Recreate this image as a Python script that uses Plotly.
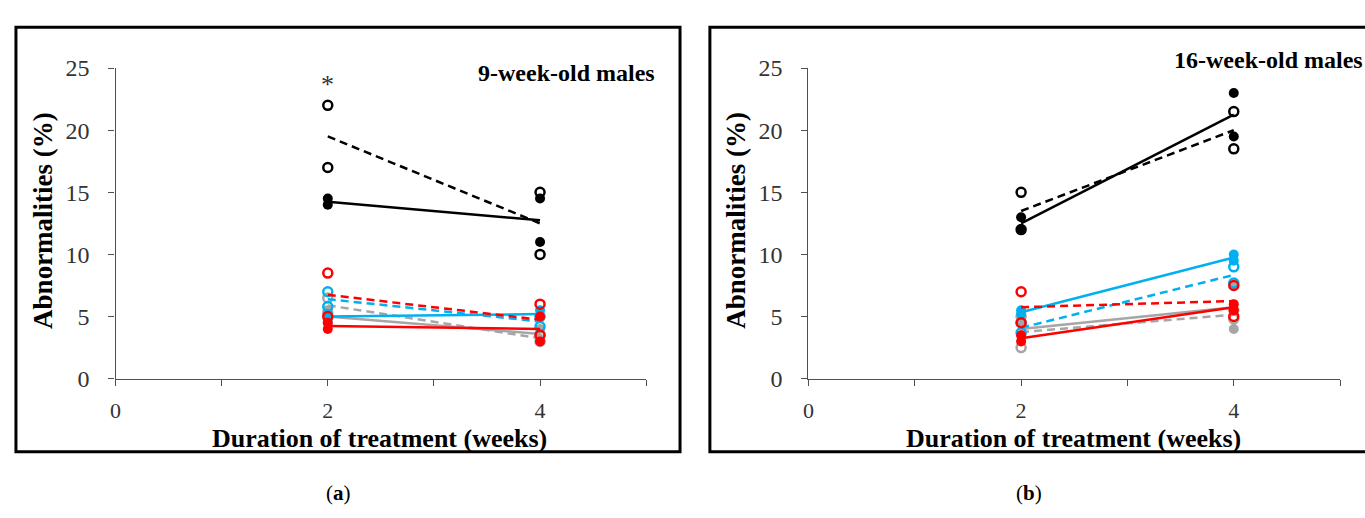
import numpy as np
import plotly.graph_objects as go

W, H = 1365, 518

weeks = [2, 4]

# Panel (a): 9-week-old males  -> values per week [[week2 values], [week4 values]]
a_black_open = [[22.0, 17.0], [15.0, 10.0]]
a_black_filled = [[14.5, 14.0], [14.5, 11.0]]
a_gray_open = [[6.5, 5.3], [3.5, 3.0]]
a_gray_filled = [[5.5, 4.5], [4.0, 3.2]]
a_blue_open = [[7.0, 5.8], [5.0, 4.2]]
a_blue_filled = [[5.2, 4.8], [5.5, 4.9]]
a_red_open = [[8.5, 5.0], [6.0, 3.5]]
a_red_filled = [[4.5, 4.0], [5.0, 3.0]]

# Panel (b): 16-week-old males
b_black_open = [[15.0, 12.0], [21.5, 18.5]]
b_black_filled = [[13.0, 12.0], [23.0, 19.5]]
b_gray_open = [[5.0, 2.5], [5.5, 4.8]]
b_gray_filled = [[4.5, 3.5], [7.5, 4.0]]
b_blue_open = [[4.5, 3.7], [9.0, 7.7]]
b_blue_filled = [[5.5, 5.2], [10.0, 9.5]]
b_red_open = [[7.0, 4.5], [7.5, 5.0]]
b_red_filled = [[3.5, 3.0], [6.0, 5.5]]

y_ticks = [0, 5, 10, 15, 20, 25]
x_ticks = [0, 1, 2, 3, 4, 5]
x_ticktext = ["0", "", "2", "", "4", ""]

panel_titles = ["9-week-old males", "16-week-old males"]
x_title = "Duration of treatment (weeks)"
y_title = "Abnormalities (%)"
panel_labels = ["(<b>a</b>)", "(<b>b</b>)"]

BLACK = "#000000"
GRAY = "#A6A6A6"
BLUE = "#00B0F0"
RED = "#FF0000"
SERIF = "Liberation Serif, Times New Roman, serif"

fig = go.Figure()


def add_group(vals, color, is_open, xa, ya):
    xs, ys = [], []
    for w, vv in zip(weeks, vals):
        for v in vv:
            xs.append(w)
            ys.append(v)
    means = [float(np.mean(vv)) for vv in vals]
    fig.add_trace(go.Scatter(
        x=weeks, y=means, mode="lines", xaxis=xa, yaxis=ya,
        line=dict(color=color, width=2.5, dash="8px,5px" if is_open else "solid"),
        showlegend=False, hoverinfo="skip"))
    if is_open:
        marker = dict(symbol="circle-open", size=9, color=color,
                      line=dict(color=color, width=2.5))
    else:
        marker = dict(symbol="circle", size=10, color=color,
                      line=dict(width=0))
    fig.add_trace(go.Scatter(
        x=xs, y=ys, mode="markers", xaxis=xa, yaxis=ya,
        marker=marker, showlegend=False))


for xa, ya, groups in [
    ("x", "y", [(a_gray_open, GRAY, True), (a_gray_filled, GRAY, False),
                (a_blue_open, BLUE, True), (a_blue_filled, BLUE, False),
                (a_red_open, RED, True), (a_red_filled, RED, False),
                (a_black_open, BLACK, True), (a_black_filled, BLACK, False)]),
    ("x2", "y2", [(b_gray_open, GRAY, True), (b_gray_filled, GRAY, False),
                  (b_blue_open, BLUE, True), (b_blue_filled, BLUE, False),
                  (b_red_open, RED, True), (b_red_filled, RED, False),
                  (b_black_open, BLACK, True), (b_black_filled, BLACK, False)]),
]:
    for vals, color, is_open in groups:
        add_group(vals, color, is_open, xa, ya)


def px_x(p):
    return p / W


def px_y(p):
    return 1 - p / H


ydom = [px_y(385), px_y(58)]
axis_common = dict(showgrid=False, zeroline=False, showline=True,
                   linecolor="#505050", linewidth=1.2, ticks="outside",
                   ticklen=6, tickcolor="#505050")
ytick_font = dict(family=SERIF, size=24, color="#333333")
xtick_font = dict(family=SERIF, size=22, color="#333333")

fig.update_layout(
    width=W, height=H, margin=dict(l=0, r=0, t=0, b=0),
    paper_bgcolor="white", plot_bgcolor="white", showlegend=False,
    xaxis=dict(domain=[px_x(110), px_x(643)], range=[0, 5], anchor="y",
               tickvals=x_ticks, ticktext=x_ticktext, ticklabelstandoff=6,
               tickfont=xtick_font, **axis_common),
    yaxis=dict(domain=ydom, range=[0, 25], anchor="x", tickvals=y_ticks,
               ticklabelstandoff=14, tickfont=ytick_font, **axis_common),
    xaxis2=dict(domain=[px_x(806), px_x(1340)], range=[0, 5], anchor="y2",
                tickvals=x_ticks, ticktext=x_ticktext, ticklabelstandoff=6,
                tickfont=xtick_font, **axis_common),
    yaxis2=dict(domain=ydom, range=[0, 25], anchor="x2", tickvals=y_ticks,
                ticklabelstandoff=14, tickfont=ytick_font, **axis_common),
)

# Frames
fig.add_shape(type="rect", xref="paper", yref="paper",
              x0=px_x(10), x1=px_x(677), y0=px_y(462), y1=px_y(15),
              line=dict(color="black", width=3))
fig.add_shape(type="rect", xref="paper", yref="paper",
              x0=px_x(707), x1=px_x(1380), y0=px_y(462), y1=px_y(15),
              line=dict(color="black", width=3))

ann = []
# axis titles
for cx_title, cx_y in [(375, 37), (1072, 733)]:
    ann.append(dict(text="<b>%s</b>" % x_title, x=px_x(cx_title), y=px_y(448),
                    xref="paper", yref="paper", showarrow=False,
                    xanchor="center", yanchor="middle",
                    font=dict(family=SERIF, size=26, color="black")))
    ann.append(dict(text="<b>%s</b>" % y_title, x=px_x(cx_y), y=px_y(218),
                    xref="paper", yref="paper", showarrow=False, textangle=-90,
                    xanchor="center", yanchor="middle",
                    font=dict(family=SERIF, size=27, color="black")))
# panel titles
ann.append(dict(text="<b>%s</b>" % panel_titles[0], x=px_x(654), y=px_y(63),
                xref="paper", yref="paper", showarrow=False,
                xanchor="right", yanchor="middle",
                font=dict(family=SERIF, size=24, color="black")))
ann.append(dict(text="<b>%s</b>" % panel_titles[1], x=px_x(1365), y=px_y(50),
                xref="paper", yref="paper", showarrow=False,
                xanchor="right", yanchor="middle",
                font=dict(family=SERIF, size=24, color="black")))
# asterisk
ann.append(dict(text="*", x=2, y=23.7, xref="x", yref="y", showarrow=False,
                xanchor="center", yanchor="middle",
                font=dict(family=SERIF, size=26, color="#333333")))
# panel labels
ann.append(dict(text=panel_labels[0], x=px_x(334), y=px_y(505),
                xref="paper", yref="paper", showarrow=False,
                xanchor="center", yanchor="middle",
                font=dict(family=SERIF, size=21, color="black")))
ann.append(dict(text=panel_labels[1], x=px_x(1028), y=px_y(505),
                xref="paper", yref="paper", showarrow=False,
                xanchor="center", yanchor="middle",
                font=dict(family=SERIF, size=21, color="black")))
fig.update_layout(annotations=ann)

fig.write_html("out.html")
